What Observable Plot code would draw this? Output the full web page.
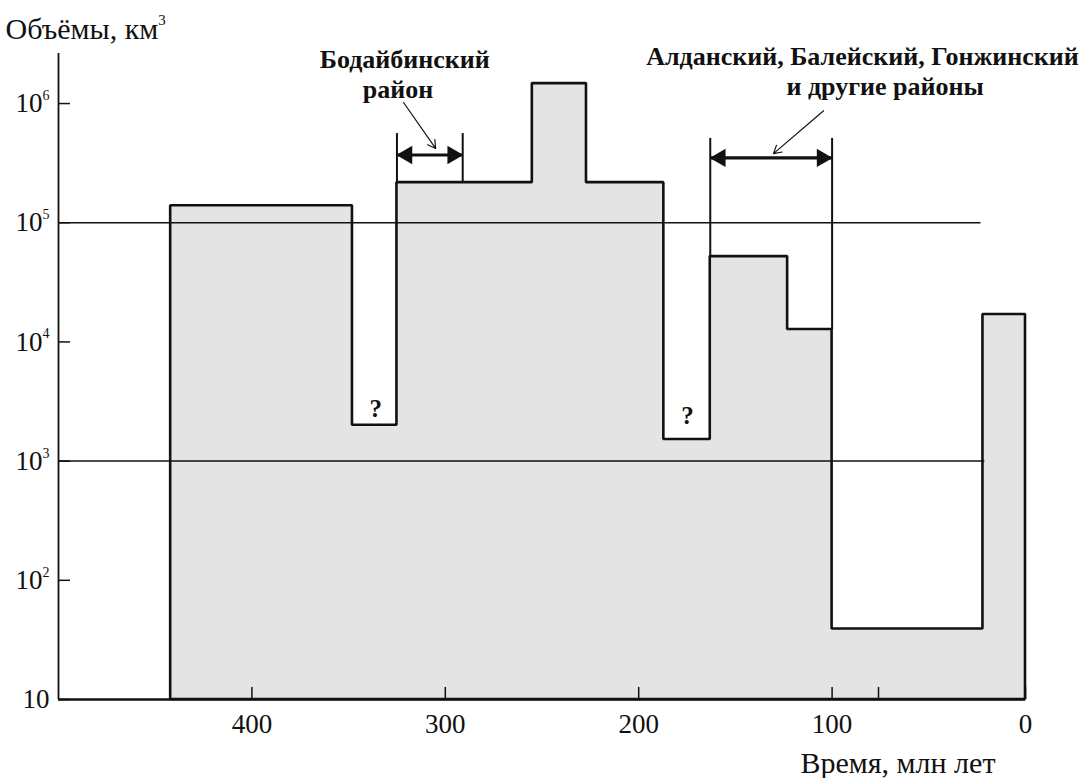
<!DOCTYPE html>
<html><head><meta charset="utf-8">
<script src="https://cdn.jsdelivr.net/npm/d3@7"></script>
<script src="https://cdn.jsdelivr.net/npm/@observablehq/plot@0.6"></script>
<style>body{margin:0;background:#fff} svg{display:block}</style>
</head><body><div id="chart"></div>
<script>
// Step histogram: left edge of each interval (Ma) and volume (km³)
const edges   = [442, 348, 325, 255, 227, 187, 163, 123, 100, 22, 0];
const volumes = [1.39e5, 2.0e3, 2.17e5, 1.47e6, 2.17e5, 1.52e3, 5.2e4, 1.27e4, 39, 1.7e4, 1.7e4];
const yTicks = [10, 1e2, 1e3, 1e4, 1e5, 1e6];
const xTicks = [400, 300, 200, 100, 0];
const xMinorTicks = [76];
const gridValues = [1e5, 1e3];
const gridEnds = [23, 21];
// annotation brackets
const bodBracket = {from: 325, to: 291, base: 2.17e5, top: 5.6e5, arrowY: 3.7e5};
const aldBracket = {from: 163, to: 100, baseFrom: 5.2e4, baseTo: 1.27e4, top: 5.1e5, arrowY: 3.5e5};
const leaders = [
  {x1: 321.6, y1: 1.02e6, x2: 305, y2: 4.2e5},
  {x1: 104.4, y1: 8.7e5, x2: 130.3, y2: 3.8e5}
];
const labels = [
  {t: 321, v: 2.0e6, text: "Бодайбинский"},
  {t: 324.5, v: 1.12e6, text: "район"},
  {t: 84.3, v: 2.1e6, text: "Алданский, Балейский, Гонжинский"},
  {t: 72.6, v: 1.17e6, text: "и другие районы"}
];
const questions = [{t: 336, v: 2.75e3}, {t: 174.8, v: 2.4e3}];

const steps = edges.map((t, i) => ({t, v: volumes[i]}));
const grid = gridValues.map((v, i) => ({v, end: gridEnds[i]}));
const bracketLines = [
  {t: bodBracket.from, y1: bodBracket.base, y2: bodBracket.top},
  {t: bodBracket.to, y1: bodBracket.base, y2: bodBracket.top},
  {t: aldBracket.from, y1: aldBracket.baseFrom, y2: aldBracket.top},
  {t: aldBracket.to, y1: aldBracket.baseTo, y2: aldBracket.top}
];
const shafts = [
  {x1: bodBracket.from, x2: bodBracket.to, y: bodBracket.arrowY},
  {x1: aldBracket.from, x2: aldBracket.to, y: aldBracket.arrowY}
];
const headsLeft = shafts.map(s => ({t: s.x1, v: s.y}));
const headsRight = shafts.map(s => ({t: s.x2, v: s.y}));

const sup = {"²":"2","³":"3","⁴":"4","⁵":"5","⁶":"6"};
const supChars = ["", "", "²", "³", "⁴", "⁵", "⁶"];
const fmtY = d => { const e = Math.round(Math.log10(d)); return e === 1 ? "10" : "10" + supChars[e]; };

const ink = "#111";
const chart = Plot.plot({
  width: 1092, height: 778,
  marginLeft: 58, marginRight: 67, marginTop: 53, marginBottom: 79,
  style: {fontFamily: "'Liberation Serif', 'Times New Roman', serif", background: "#fff", color: ink},
  x: {domain: [500, 0], label: null},
  y: {type: "log", domain: [10, 2.63e6], label: null},
  marks: [
    Plot.areaY(steps, {x: "t", y1: 10, y2: "v", curve: "step-after", fill: "#e4e4e4", stroke: ink, strokeWidth: 2.6, strokeLinejoin: "miter"}),
    Plot.ruleY(grid, {y: "v", x1: 500, x2: "end", stroke: ink, strokeWidth: 1.5}),
    Plot.ruleX([500], {stroke: ink, strokeWidth: 1.8}),
    Plot.ruleY([10], {stroke: ink, strokeWidth: 2.4}),
    Plot.axisY({ticks: yTicks, tickFormat: fmtY, tickSize: -12, tickPadding: 21, fontSize: 27, strokeWidth: 1.5, label: null}),
    Plot.axisX({ticks: xTicks, tickFormat: d => String(d), tickSize: -12, tickPadding: 26, fontSize: 27, strokeWidth: 1.5, label: null}),
    Plot.axisX(xMinorTicks, {tickFormat: () => "", tickSize: -12, strokeWidth: 1.5, label: null}),
    Plot.ruleX(bracketLines, {x: "t", y1: "y1", y2: "y2", stroke: ink, strokeWidth: 2}),
    Plot.link(shafts, {x1: "x1", x2: "x2", y1: "y", y2: "y", stroke: ink, strokeWidth: 3.2}),
    Plot.dot(headsLeft, {x: "t", y: "v", symbol: "triangle", rotate: -90, r: 6.8, fill: ink, dx: 10}),
    Plot.dot(headsRight, {x: "t", y: "v", symbol: "triangle", rotate: 90, r: 6.8, fill: ink, dx: -10}),
    Plot.arrow(leaders, {x1: "x1", y1: "y1", x2: "x2", y2: "y2", stroke: ink, strokeWidth: 1.2, headLength: 11}),
    Plot.text(labels, {x: "t", y: "v", text: "text", fontSize: 26, fontWeight: "bold", lineAnchor: "bottom", fill: ink}),
    Plot.text(questions, {x: "t", y: "v", text: () => "?", fontSize: 25, fontWeight: "bold", fill: ink}),
    Plot.text(["Объёмы, км³"], {frameAnchor: "top-left", textAnchor: "start", lineAnchor: "bottom", dx: -53, dy: -15, fontSize: 30, fill: ink}),
    Plot.text(["Время, млн лет"], {frameAnchor: "bottom-right", textAnchor: "end", lineAnchor: "bottom", dx: -30, dy: 73, fontSize: 30, fill: ink})
  ]
});
document.getElementById("chart").appendChild(chart);

// render superscript exponents as raised tspans
chart.querySelectorAll("text").forEach(t => {
  if (t.children.length) return;
  const s = t.textContent;
  const last = s.slice(-1);
  if (sup[last]) {
    const fs = parseFloat(getComputedStyle(t).fontSize) || 27;
    t.textContent = s.slice(0, -1);
    const ts = document.createElementNS("http://www.w3.org/2000/svg", "tspan");
    ts.setAttribute("font-size", Math.round(fs * 0.5));
    ts.setAttribute("dy", (-fs * 0.45).toFixed(1));
    ts.textContent = sup[last];
    t.appendChild(ts);
  }
});
</script>
</body></html>
